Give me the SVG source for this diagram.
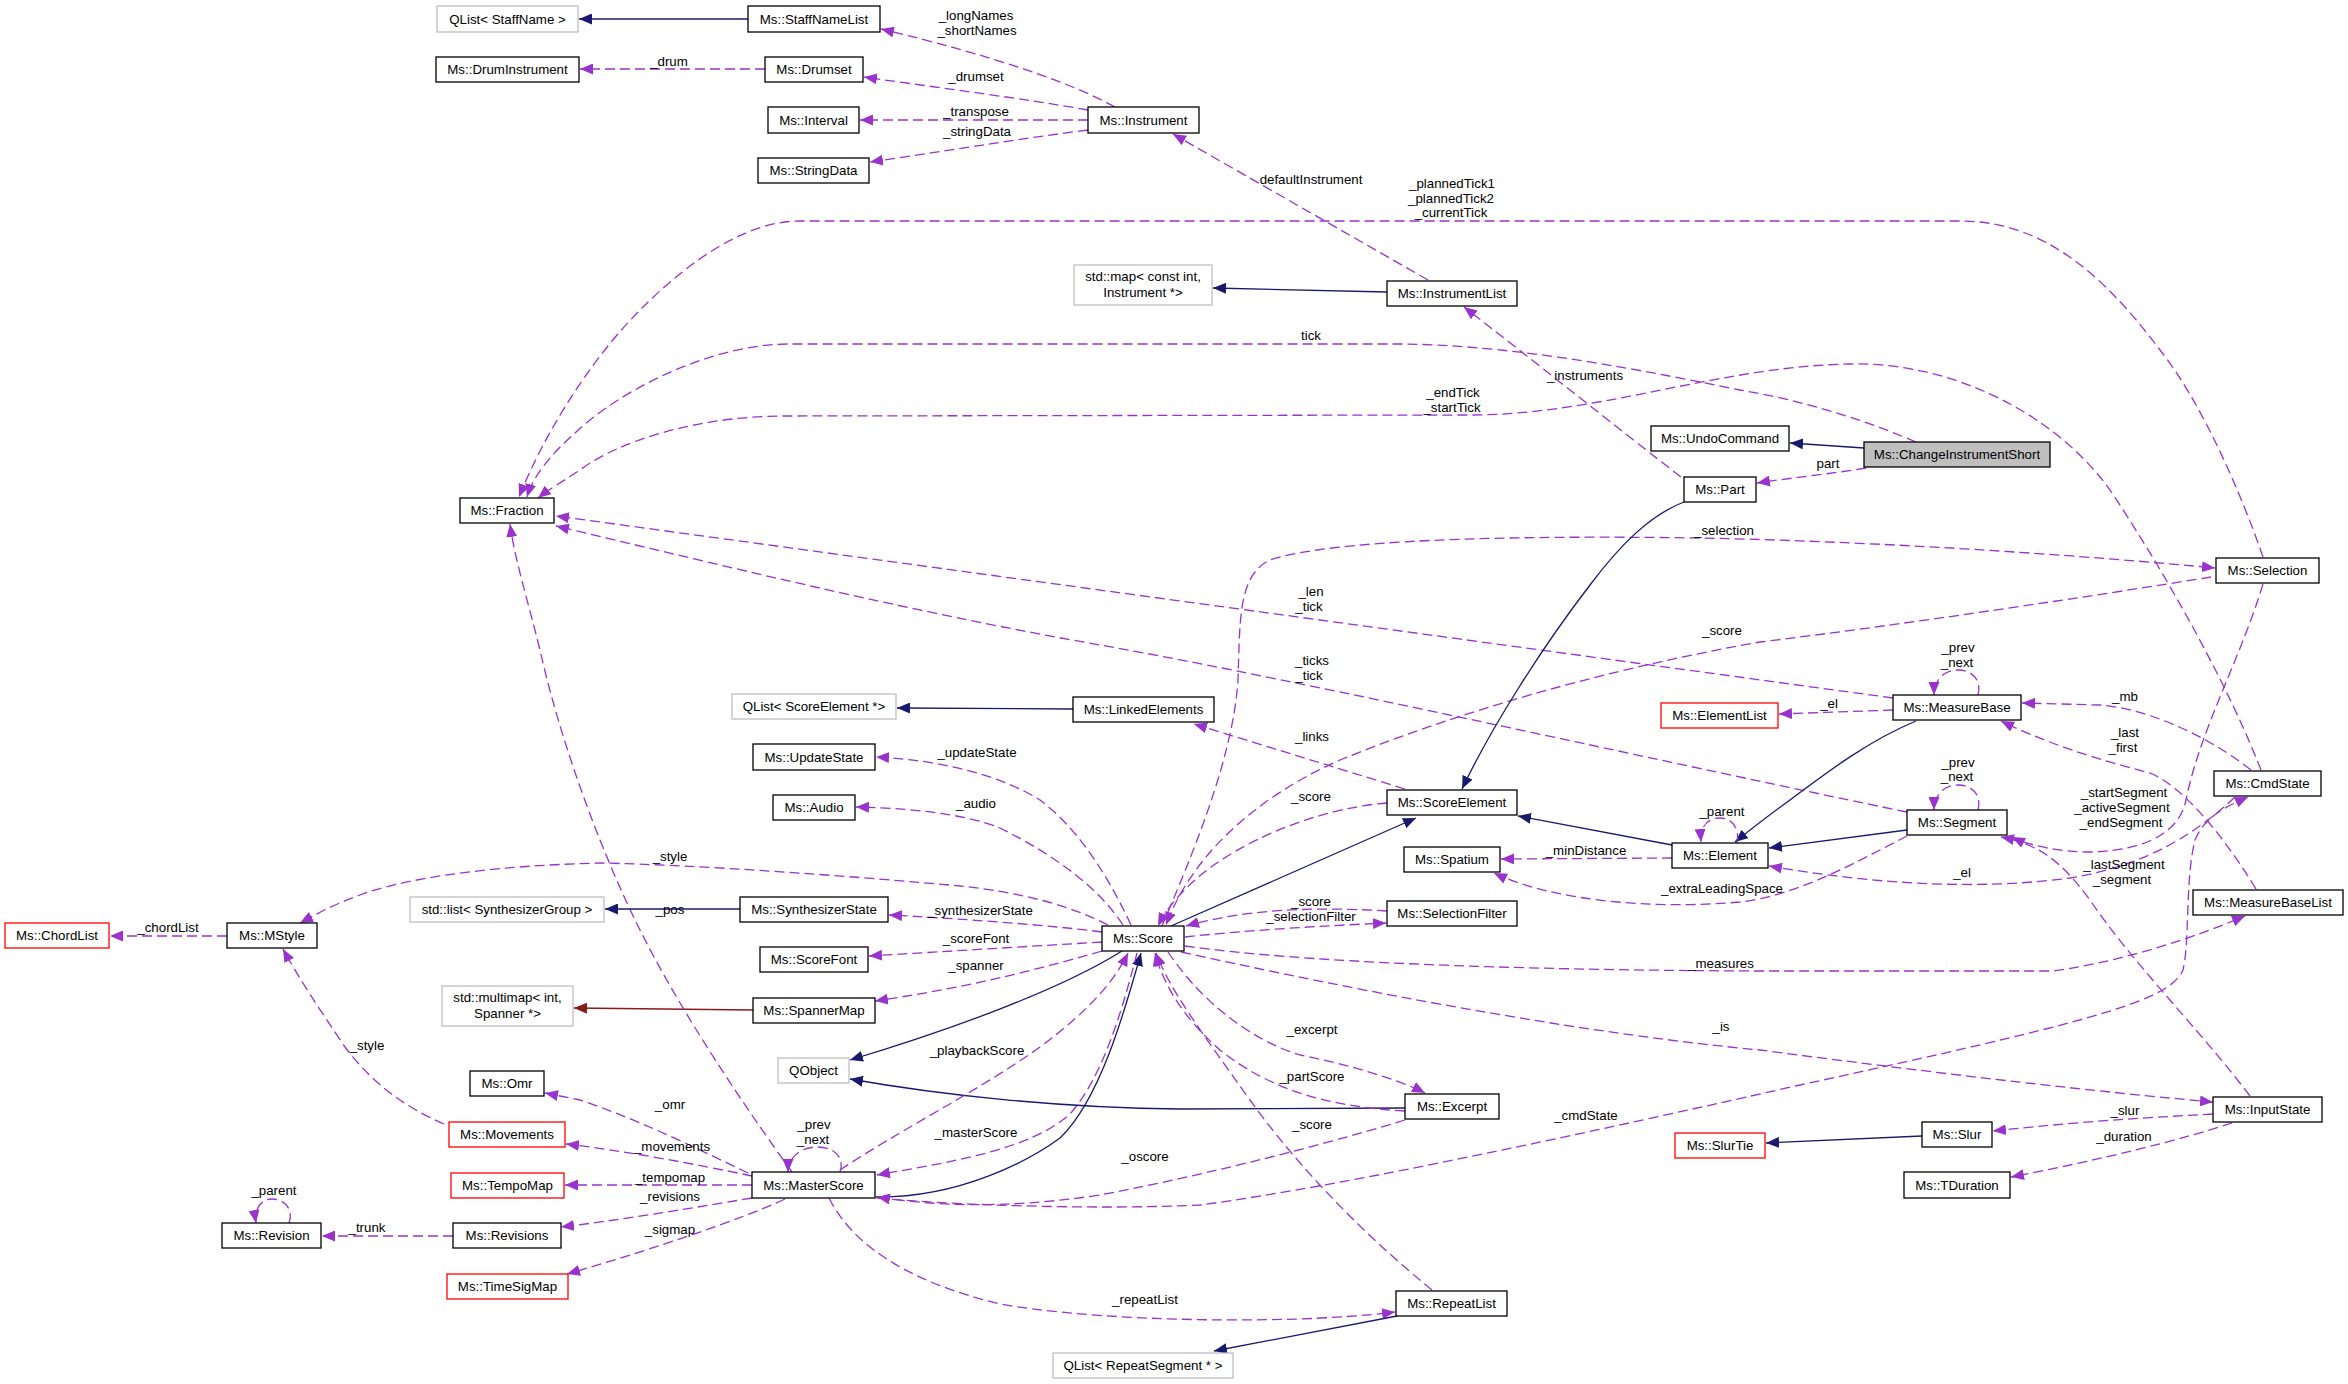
<svg xmlns="http://www.w3.org/2000/svg" width="2348" height="1384" viewBox="0 0 2348 1384">
<defs>
<style>
.nd rect{fill:#fff;stroke:#000;stroke-width:1.3}
.nd.g rect{stroke:#bfbfbf}
.nd.r rect{stroke:#ff0000}
.nd.f rect{fill:#bfbfbf}
.nd text{font-family:"Liberation Sans",Arial,sans-serif;font-size:13.3px;text-anchor:middle;fill:#000}
.lb text{font-family:"Liberation Sans",Arial,sans-serif;font-size:13.3px;text-anchor:middle;fill:#000}
#edges path{fill:none;stroke-width:1.3}
#edges path.d{stroke:#9a32cd;stroke-dasharray:10,5;marker-end:url(#ap)}
#edges path.s{stroke:#191970;marker-end:url(#an)}
#edges path.b{stroke:#8b1a1a;marker-end:url(#ab)}
</style>
<marker id="ap" markerUnits="userSpaceOnUse" markerWidth="14" markerHeight="11" refX="13" refY="5.5" orient="auto" viewBox="0 0 14 11"><path d="M0,0 L13,5.5 L0,11 z" fill="#9a32cd" stroke="none"/></marker>
<marker id="an" markerUnits="userSpaceOnUse" markerWidth="14" markerHeight="11" refX="13" refY="5.5" orient="auto" viewBox="0 0 14 11"><path d="M0,0 L13,5.5 L0,11 z" fill="#191970" stroke="none"/></marker>
<marker id="ab" markerUnits="userSpaceOnUse" markerWidth="14" markerHeight="11" refX="13" refY="5.5" orient="auto" viewBox="0 0 14 11"><path d="M0,0 L13,5.5 L0,11 z" fill="#8b1a1a" stroke="none"/></marker>
</defs>
<rect x="0" y="0" width="2348" height="1384" fill="#fff"/>
<g id="edges">
<path class="s" d="M748,19 L579,19"/>
<path class="d" d="M765,69 L580,69"/>
<path class="d" d="M1115,107 C1070,82 990,55 881,29"/>
<path class="d" d="M1088,110 C1020,98 940,88 864,77"/>
<path class="d" d="M1088,120 L860,120"/>
<path class="d" d="M1088,130 C1010,140 940,152 870,162"/>
<path class="d" d="M1428,280 L1173,134"/>
<path class="s" d="M1387,292 L1213,288"/>
<path class="d" d="M1681,477 C1620,430 1520,350 1464,307"/>
<path class="s" d="M1864,448 L1790,443"/>
<path class="d" d="M1866,468 C1830,474 1790,478 1757,483"/>
<path class="d" d="M2263,557 C2240,490 2200,400 2160,350 C2100,270 2040,221 1960,221 L800,221 C740,221 680,270 640,310 C600,350 550,420 519,497"/>
<path class="d" d="M1916,442 C1860,418 1800,400 1740,390 C1650,372 1520,345 1400,344 L790,344 C720,344 640,380 590,420 C560,445 535,470 527,497"/>
<path class="d" d="M2261,770 C2230,690 2170,580 2110,490 C2060,420 1960,362 1850,364 C1720,366 1600,415 1470,415 L785,416 C700,416 620,440 580,470 C560,483 548,490 538,498"/>
<path class="d" d="M1162,926 C1190,860 1233,760 1238,680 C1240,620 1238,575 1270,560 C1330,540 1500,535 1700,538 C1900,542 2100,557 2215,568"/>
<path class="d" d="M2211,577 C2100,595 1900,625 1760,642 C1600,670 1450,715 1340,760 C1250,800 1190,860 1166,925"/>
<path class="d" d="M1893,698 L556,516"/>
<path class="d" d="M1907,812 C1700,770 1300,680 1100,645 C900,610 700,560 556,526"/>
<path class="d" d="M1405,789 L1194,724"/>
<path class="d" d="M1387,803 C1320,808 1240,840 1195,880 C1175,898 1165,912 1158,926"/>
<path class="s" d="M1684,502 C1650,515 1620,545 1590,585 C1540,650 1490,730 1462,789"/>
<path class="s" d="M1672,845 L1518,816"/>
<path class="s" d="M1171,926 L1416,818"/>
<path class="s" d="M1916,721 C1870,740 1830,770 1790,800 C1765,818 1750,830 1735,842"/>
<path class="s" d="M1907,830 L1769,848"/>
<path class="d" d="M1737,843 C1740,828 1732,818 1720,818 C1706,818 1700,828 1701,842"/>
<path class="d" d="M1672,858 L1501,859"/>
<path class="d" d="M1907,836 C1860,860 1800,895 1740,902 C1650,910 1550,900 1494,873"/>
<path class="d" d="M1387,911 C1320,907 1250,908 1186,926"/>
<path class="d" d="M1185,937 C1250,930 1320,926 1386,923"/>
<path class="d" d="M1131,925 C1110,880 1080,830 1040,800 C1000,775 940,760 876,757"/>
<path class="d" d="M1123,925 C1100,890 1060,858 1000,828 C960,812 900,808 856,807"/>
<path class="d" d="M1108,925 C1060,900 1000,890 960,886 C850,876 700,865 600,863 C480,866 400,880 360,895 C330,906 315,915 300,923"/>
<path class="d" d="M1102,932 C1050,925 950,918 889,915"/>
<path class="d" d="M1102,942 L869,956"/>
<path class="d" d="M1102,951 C1020,975 950,990 875,1001"/>
<path class="b" d="M753,1010 L574,1008"/>
<path class="s" d="M1122,951 C1060,990 950,1030 850,1060"/>
<path class="s" d="M1405,1108 L1180,1109 C1060,1108 940,1095 850,1079"/>
<path class="s" d="M876,1197 C960,1198 1030,1160 1060,1138 C1100,1100 1125,1010 1141,953"/>
<path class="d" d="M1137,953 C1120,1020 1100,1080 1070,1114 C1030,1150 950,1162 877,1175"/>
<path class="d" d="M840,1170 C900,1130 980,1090 1040,1047 C1090,1010 1115,980 1128,953"/>
<path class="d" d="M1168,952 C1200,1000 1250,1040 1300,1055 C1350,1065 1400,1080 1425,1093"/>
<path class="d" d="M1405,1111 C1330,1107 1270,1090 1220,1050 C1180,1015 1162,980 1155,953"/>
<path class="d" d="M1405,1120 C1300,1152 1180,1180 1100,1195 C1000,1210 930,1205 877,1197"/>
<path class="d" d="M877,1198 C950,1205 1100,1210 1200,1205 C1350,1185 1600,1130 1800,1085 C2100,1020 2170,1000 2183,970 C2190,940 2185,880 2195,840 C2205,815 2230,805 2248,797"/>
<path class="d" d="M2235,797 C2200,830 2150,865 2070,878 C1980,890 1880,885 1769,866"/>
<path class="d" d="M2263,584 C2240,660 2200,730 2186,800 C2180,830 2150,850 2092,852 C2060,852 2030,846 2012,837"/>
<path class="d" d="M2250,1096 C2200,1030 2130,960 2090,900 C2060,860 2040,845 2001,837"/>
<path class="d" d="M2256,889 C2220,830 2180,785 2150,773 C2100,760 2050,745 2001,721"/>
<path class="d" d="M2251,770 C2200,730 2140,708 2100,705 L2022,703"/>
<path class="d" d="M1978,695 C1982,680 1972,670 1958,670 C1944,670 1934,680 1934,695"/>
<path class="d" d="M1978,810 C1982,795 1972,785 1958,785 C1944,785 1934,795 1934,810"/>
<path class="d" d="M1893,710 L1779,714"/>
<path class="d" d="M1185,946 C1300,962 1500,970 1760,971 L2054,971 C2130,960 2200,935 2245,916"/>
<path class="d" d="M1181,952 C1400,1000 1600,1035 1760,1050 C1950,1075 2100,1092 2213,1102"/>
<path class="d" d="M2213,1114 C2100,1120 2050,1125 1993,1131"/>
<path class="d" d="M2232,1123 C2180,1140 2100,1160 2011,1177"/>
<path class="s" d="M1922,1136 L1766,1143"/>
<path class="d" d="M1432,1290 C1370,1240 1300,1170 1250,1100 C1200,1030 1170,990 1156,953"/>
<path class="d" d="M829,1198 C850,1240 900,1280 1000,1304 C1080,1318 1200,1322 1300,1319 C1350,1317 1380,1314 1395,1312"/>
<path class="s" d="M1397,1316 L1214,1351"/>
<path class="d" d="M792,1172 C740,1100 680,1010 640,930 C600,850 560,740 540,650 C525,590 515,560 510,524"/>
<path class="d" d="M748,1173 C700,1150 640,1120 580,1100 L545,1093"/>
<path class="d" d="M752,1176 C700,1165 620,1150 566,1144"/>
<path class="d" d="M752,1185 L565,1185"/>
<path class="d" d="M752,1198 C680,1210 620,1220 561,1227"/>
<path class="d" d="M785,1199 C740,1220 650,1250 567,1274"/>
<path class="d" d="M840,1172 C845,1158 835,1147 817,1147 C800,1147 788,1158 788,1172"/>
<path class="d" d="M444,1124 C400,1105 370,1080 345,1047 C320,1010 300,980 283,949"/>
<path class="d" d="M227,936 L110,936"/>
<path class="d" d="M453,1236 L322,1236"/>
<path class="d" d="M289,1223 C294,1210 285,1199 272,1199 C260,1199 254,1210 256,1223"/>
<path class="s" d="M740,909 L605,909"/>
<path class="s" d="M1073,709 L897,708"/>
</g>
<g class="lb">
<text x="976" y="20">_longNames</text><text x="977" y="35">_shortNames</text>
<text x="669" y="66">_drum</text>
<text x="976" y="81">_drumset</text>
<text x="976" y="116">_transpose</text>
<text x="977" y="136">_stringData</text>
<text x="1311" y="184">defaultInstrument</text>
<text x="1452" y="188">_plannedTick1</text><text x="1451" y="203">_plannedTick2</text><text x="1451" y="217">_currentTick</text>
<text x="1311" y="340">tick</text>
<text x="1585" y="380">_instruments</text>
<text x="1453" y="397">_endTick</text><text x="1452" y="412">_startTick</text>
<text x="1828" y="468">part</text>
<text x="1724" y="535">_selection</text>
<text x="1311" y="596">_len</text><text x="1309" y="611">_tick</text>
<text x="1722" y="635">_score</text>
<text x="1312" y="665">_ticks</text><text x="1309" y="680">_tick</text>
<text x="1312" y="741">_links</text>
<text x="1311" y="801">_score</text>
<text x="1722" y="816">_parent</text>
<text x="1586" y="855">_minDistance</text>
<text x="1722" y="893">_extraLeadingSpace</text>
<text x="1311" y="906">_score</text><text x="1311" y="921">_selectionFilter</text>
<text x="1958" y="652">_prev</text><text x="1957" y="667">_next</text>
<text x="1829" y="708">_el</text>
<text x="2125" y="701">_mb</text>
<text x="2125" y="737">_last</text><text x="2123" y="752">_first</text>
<text x="1958" y="767">_prev</text><text x="1957" y="781">_next</text>
<text x="2124" y="797">_startSegment</text><text x="2122" y="812">_activeSegment</text><text x="2121" y="827">_endSegment</text>
<text x="2124" y="869">_lastSegment</text><text x="2122" y="884">_segment</text>
<text x="1962" y="877">_el</text>
<text x="977" y="757">_updateState</text>
<text x="976" y="808">_audio</text>
<text x="670" y="861">_style</text>
<text x="670" y="914">_pos</text>
<text x="980" y="915">_synthesizerState</text>
<text x="168" y="932">_chordList</text>
<text x="976" y="943">_scoreFont</text>
<text x="976" y="970">_spanner</text>
<text x="977" y="1055">_playbackScore</text>
<text x="670" y="1109">_omr</text>
<text x="814" y="1129">_prev</text><text x="813" y="1144">_next</text>
<text x="976" y="1137">_masterScore</text>
<text x="672" y="1151">_movements</text>
<text x="670" y="1182">_tempomap</text>
<text x="670" y="1201">_revisions</text>
<text x="670" y="1234">_sigmap</text>
<text x="1145" y="1161">_oscore</text>
<text x="1145" y="1304">_repeatList</text>
<text x="367" y="1050">_style</text>
<text x="274" y="1195">_parent</text>
<text x="367" y="1232">_trunk</text>
<text x="1721" y="968">_measures</text>
<text x="1721" y="1031">_is</text>
<text x="1312" y="1034">_excerpt</text>
<text x="1312" y="1081">_partScore</text>
<text x="1312" y="1129">_score</text>
<text x="1586" y="1120">_cmdState</text>
<text x="2125" y="1115">_slur</text>
<text x="2124" y="1141">_duration</text>
</g>
<g id="n_qliststaffname" class="nd g"><rect x="437" y="6" width="141" height="26"/><text x="507.5" y="23.5">QList&lt; StaffName &gt;</text></g>
<g id="n_druminstrument" class="nd"><rect x="436" y="57" width="143" height="25"/><text x="507.5" y="74">Ms::DrumInstrument</text></g>
<g id="n_staffnamelist" class="nd"><rect x="748" y="6" width="132" height="26"/><text x="814" y="23.5">Ms::StaffNameList</text></g>
<g id="n_drumset" class="nd"><rect x="765" y="57" width="98" height="25"/><text x="814" y="74">Ms::Drumset</text></g>
<g id="n_interval" class="nd"><rect x="768" y="107" width="91" height="26"/><text x="813.5" y="124.5">Ms::Interval</text></g>
<g id="n_stringdata" class="nd"><rect x="758" y="158" width="111" height="25"/><text x="813.5" y="175">Ms::StringData</text></g>
<g id="n_instrument" class="nd"><rect x="1088" y="107" width="111" height="26"/><text x="1143.5" y="124.5">Ms::Instrument</text></g>
<g id="n_stdmap" class="nd g"><rect x="1074" y="265" width="138" height="40"/><text x="1143" y="281">std::map&lt; const int,</text><text x="1143" y="297">Instrument *&gt;</text></g>
<g id="n_instrumentlist" class="nd"><rect x="1387" y="281" width="130" height="25"/><text x="1452" y="298">Ms::InstrumentList</text></g>
<g id="n_undocommand" class="nd"><rect x="1651" y="426" width="138" height="25"/><text x="1720" y="443">Ms::UndoCommand</text></g>
<g id="n_changeinstrumentshort" class="nd f"><rect x="1864" y="442" width="186" height="25"/><text x="1957" y="459">Ms::ChangeInstrumentShort</text></g>
<g id="n_part" class="nd"><rect x="1684" y="477" width="72" height="25"/><text x="1720" y="494">Ms::Part</text></g>
<g id="n_fraction" class="nd"><rect x="460" y="498" width="94" height="25"/><text x="507" y="515">Ms::Fraction</text></g>
<g id="n_selection" class="nd"><rect x="2216" y="558" width="103" height="25"/><text x="2267.5" y="575">Ms::Selection</text></g>
<g id="n_qlistscoreelement" class="nd g"><rect x="732" y="694" width="164" height="25"/><text x="814" y="711">QList&lt; ScoreElement *&gt;</text></g>
<g id="n_linkedelements" class="nd"><rect x="1073" y="697" width="141" height="25"/><text x="1143.5" y="714">Ms::LinkedElements</text></g>
<g id="n_elementlist" class="nd r"><rect x="1661" y="703" width="117" height="25"/><text x="1719.5" y="720">Ms::ElementList</text></g>
<g id="n_measurebase" class="nd"><rect x="1893" y="695" width="128" height="25"/><text x="1957" y="712">Ms::MeasureBase</text></g>
<g id="n_updatestate" class="nd"><rect x="753" y="744" width="122" height="26"/><text x="814" y="761.5">Ms::UpdateState</text></g>
<g id="n_cmdstate" class="nd"><rect x="2214" y="771" width="107" height="25"/><text x="2267.5" y="788">Ms::CmdState</text></g>
<g id="n_audio" class="nd"><rect x="773" y="795" width="82" height="25"/><text x="814" y="812">Ms::Audio</text></g>
<g id="n_scoreelement" class="nd"><rect x="1387" y="790" width="130" height="25"/><text x="1452" y="807">Ms::ScoreElement</text></g>
<g id="n_segment" class="nd"><rect x="1907" y="810" width="100" height="25"/><text x="1957" y="827">Ms::Segment</text></g>
<g id="n_element" class="nd"><rect x="1672" y="843" width="96" height="25"/><text x="1720" y="860">Ms::Element</text></g>
<g id="n_spatium" class="nd"><rect x="1404" y="847" width="96" height="25"/><text x="1452" y="864">Ms::Spatium</text></g>
<g id="n_measurebaselist" class="nd"><rect x="2193" y="890" width="150" height="25"/><text x="2268" y="907">Ms::MeasureBaseList</text></g>
<g id="n_stdlist" class="nd g"><rect x="410" y="897" width="194" height="25"/><text x="507" y="914">std::list&lt; SynthesizerGroup &gt;</text></g>
<g id="n_synthesizerstate" class="nd"><rect x="740" y="897" width="148" height="25"/><text x="814" y="914">Ms::SynthesizerState</text></g>
<g id="n_selectionfilter" class="nd"><rect x="1387" y="901" width="130" height="25"/><text x="1452" y="918">Ms::SelectionFilter</text></g>
<g id="n_chordlist" class="nd r"><rect x="5" y="923" width="104" height="25"/><text x="57" y="940">Ms::ChordList</text></g>
<g id="n_mstyle" class="nd"><rect x="227" y="923" width="90" height="25"/><text x="272" y="940">Ms::MStyle</text></g>
<g id="n_score" class="nd"><rect x="1102" y="926" width="82" height="25"/><text x="1143" y="943">Ms::Score</text></g>
<g id="n_scorefont" class="nd"><rect x="760" y="947" width="108" height="25"/><text x="814" y="964">Ms::ScoreFont</text></g>
<g id="n_multimap" class="nd g"><rect x="442" y="986" width="131" height="40"/><text x="507.5" y="1002">std::multimap&lt; int,</text><text x="507.5" y="1018">Spanner *&gt;</text></g>
<g id="n_spannermap" class="nd"><rect x="753" y="998" width="122" height="25"/><text x="814" y="1015">Ms::SpannerMap</text></g>
<g id="n_qobject" class="nd g"><rect x="778" y="1058" width="71" height="25"/><text x="813.5" y="1075">QObject</text></g>
<g id="n_omr" class="nd"><rect x="470" y="1071" width="74" height="25"/><text x="507" y="1088">Ms::Omr</text></g>
<g id="n_excerpt" class="nd"><rect x="1405" y="1094" width="94" height="25"/><text x="1452" y="1111">Ms::Excerpt</text></g>
<g id="n_inputstate" class="nd"><rect x="2213" y="1097" width="109" height="25"/><text x="2267.5" y="1114">Ms::InputState</text></g>
<g id="n_slur" class="nd"><rect x="1922" y="1122" width="70" height="25"/><text x="1957" y="1139">Ms::Slur</text></g>
<g id="n_movements" class="nd r"><rect x="449" y="1122" width="116" height="25"/><text x="507" y="1139">Ms::Movements</text></g>
<g id="n_slurtie" class="nd r"><rect x="1675" y="1133" width="90" height="25"/><text x="1720" y="1150">Ms::SlurTie</text></g>
<g id="n_masterscore" class="nd"><rect x="752" y="1172" width="123" height="26"/><text x="813.5" y="1189.5">Ms::MasterScore</text></g>
<g id="n_tempomap" class="nd r"><rect x="451" y="1173" width="113" height="25"/><text x="507.5" y="1190">Ms::TempoMap</text></g>
<g id="n_tduration" class="nd"><rect x="1904" y="1172" width="106" height="26"/><text x="1957" y="1189.5">Ms::TDuration</text></g>
<g id="n_revision" class="nd"><rect x="222" y="1223" width="99" height="25"/><text x="271.5" y="1240">Ms::Revision</text></g>
<g id="n_revisions" class="nd"><rect x="453" y="1223" width="108" height="25"/><text x="507" y="1240">Ms::Revisions</text></g>
<g id="n_timesigmap" class="nd r"><rect x="447" y="1274" width="121" height="25"/><text x="507.5" y="1291">Ms::TimeSigMap</text></g>
<g id="n_repeatlist" class="nd"><rect x="1396" y="1291" width="111" height="25"/><text x="1451.5" y="1308">Ms::RepeatList</text></g>
<g id="n_qlistrepeatsegment" class="nd g"><rect x="1053" y="1353" width="180" height="25"/><text x="1143" y="1370">QList&lt; RepeatSegment * &gt;</text></g>
</svg>
